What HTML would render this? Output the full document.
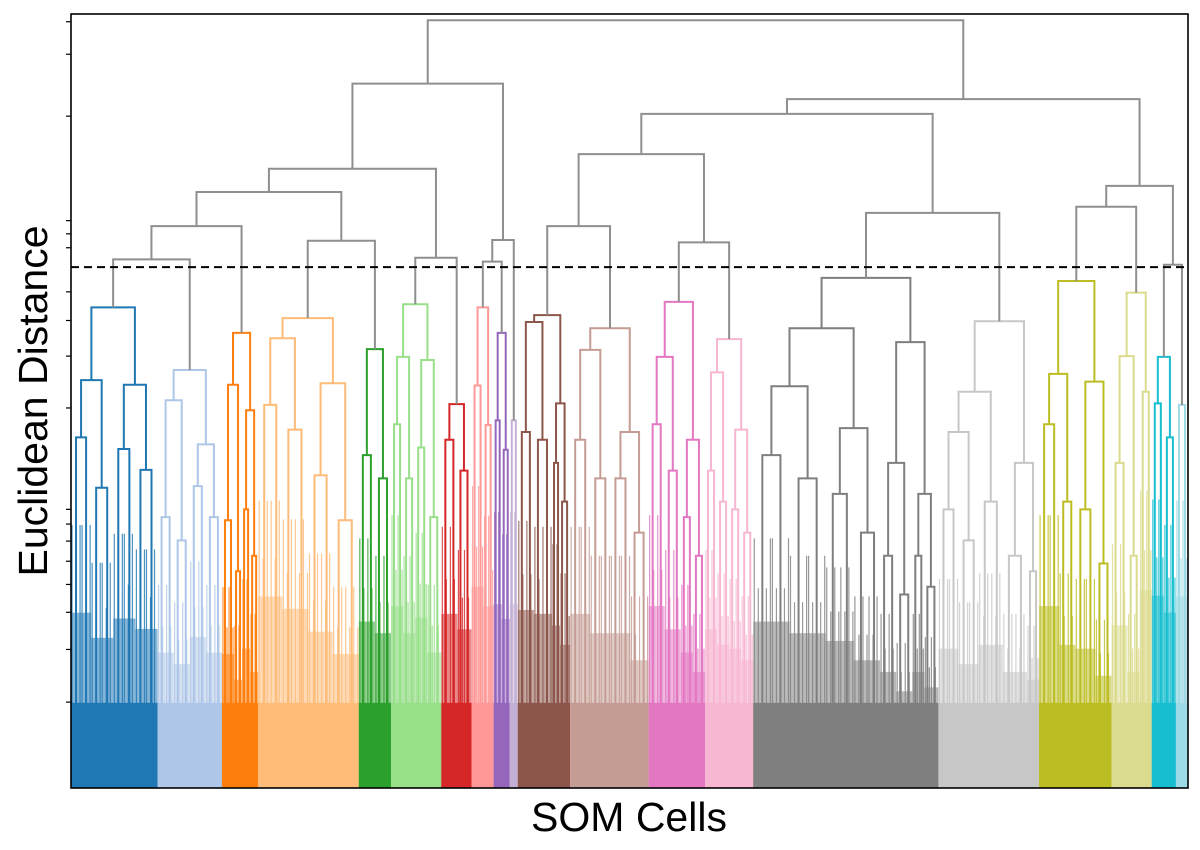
<!DOCTYPE html>
<html><head><meta charset="utf-8"><style>
body{margin:0;background:#fff;}
svg{display:block;font-family:"Liberation Sans",sans-serif;}
</style></head><body>
<svg id="chart" width="1200" height="850" viewBox="0 0 1200 850">
<g id="marks"></g>
<line id="thr" stroke="#000" stroke-width="2" stroke-dasharray="8,5"/>
<rect x="71" y="14" width="1117" height="774" fill="none" stroke="#000" stroke-width="1.6"/>
<g id="ticks"></g>
<text x="47" y="401" font-size="41" text-anchor="middle" transform="rotate(-90 47 401)">Euclidean Distance</text>
<text x="629" y="831" font-size="41" text-anchor="middle">SOM Cells</text>
</svg>
<script>
const clusterColors=["#1f77b4","#aec7e8","#ff7f0e","#ffbb78","#2ca02c","#98df8a","#d62728","#ff9896","#9467bd","#c5b0d5","#8c564b","#c49c94","#e377c2","#f7b6d2","#7f7f7f","#c7c7c7","#bcbd22","#dbdb8d","#17becf","#9edae5"];
const clusterNames=["blue","light-blue","orange","light-orange","green","light-green","red","light-red","purple","light-purple","brown","light-brown","pink","light-pink","gray","light-gray","olive","light-olive","cyan","light-cyan"];
const clusterTrees=[
 [62.1,[52.7,[45.3,5,5],[38.8,5,6]],[52.1,[43.8,5,6],[41.1,5,6]]],
 [54.0,[50.1,[35,4,4],[32,4,4]],[44.4,[39,4,4],[35,4,4]]],
 [58.8,[52.1,[34.6,3,3],[28,2,2]],[48.8,[36,2,2],[30,2,2]]],
 [60.7,[58.1,[49.5,6,6],[46.3,6,7]],[52.3,[40.4,6,6],[34.6,6,7]]],
 [56.7,[43,4,4],[40,4,4]],
 [62.5,[55.7,[47,3,3],[40,3,3]],[55.3,[44,3,3],[35,3,4]]],
 [49.6,[45,4,4],[41,3,4]],
 [62.1,[52,3,3],[46.9,2,3]],
 [58.8,[47.5,2,2],[43.7,2,2]],
 [47.5,2,2],
 [61.1,[60.2,[46,4,4],[45,4,5]],[49.7,[42,2,2],[37,2,3]]],
 [59.4,[56.6,[45,5,5],[40,5,5]],[46,[40,5,5],[33,4,5]]],
 [62.8,[55.7,[47,4,4],[41,4,4]],[45,[35,3,3],[30,3,3]]],
 [58.0,[53.7,[41,3,3],[37,3,3]],[46.3,[36,3,3],[33,3,3]]],
 [65.9,[59.4,[51.9,[43,9,9],[40,9,9]],[46.5,[38,7,7],[33,7,6]]],[57.6,[42,[30,4,4],[25,4,4]],[38,[30,3,3],[26,3,4]]]],
 [60.3,[51.2,[46,[36,5,5],[32,5,5]],[37,6,6]],[42,[30,6,6],[28,3,3]]],
 [65.5,[53.5,[47,5,5],[37,4,4]],[52.5,[36,5,5],[29,4,4]]],
 [64.0,[55.8,[42,4,4],[30,3,3]],[51.2,3,3]],
 [55.7,[49.7,3,3],[45.3,3,3]],
 [49.5,3,3]
];
const topTree=[99.2,
 [91.0,
  [80.0,[77.0,[72.6,[68.3,{k:0},{k:1}],{k:2}],[70.7,{k:3},{k:4}]],[68.5,{k:5},{k:6}]],
  [70.8,[68.0,{k:7},{k:8}],{k:9}]],
 [89.0,
  [87.1,[81.9,[72.6,{k:10},{k:11}],[70.5,{k:12},{k:13}]],[74.3,{k:14},{k:15}]],
  [77.8,[75.1,{k:16},{k:17}],[67.6,{k:18},{k:19}]]]];
const threshold=67.3;
const tickValues=[99,94.8,86.8,73.3,71.6,69.8,64.1,60.4,55.8,49.1,36.0,34.1,31.9,29.3,26.3,22.7,17.9,11.1];
const fillHeight=11;

const NS="http://www.w3.org/2000/svg";
const X0=71,X1=1188,Y0=788,Y1=14;
function countLeaves(n){if(typeof n==="number")return n;if(n.k!==undefined)return countLeaves(clusterTrees[n.k]);return countLeaves(n[1])+countLeaves(n[2]);}
const total=countLeaves(topTree);
const xs=u=>X0+u*(X1-X0)/total;
const ys=d=>Y0-d*(Y0-Y1)/100;
const g=document.getElementById("marks");
let cursor=0;
function mk(tag,attrs){const e=document.createElementNS(NS,tag);for(const k in attrs)e.setAttribute(k,attrs[k]);g.appendChild(e);return e;}
function layout(node,color,cname){
 if(typeof node==="number"){const x0=cursor;cursor+=node;return {x:x0+node/2,h:0,group:true,x0:x0,n:node};}
 if(node.k!==undefined){
  const c=clusterColors[node.k];const start=cursor;
  const r=layout(clusterTrees[node.k],c,clusterNames[node.k]);
  const blk=mk("rect",{x:xs(start),y:ys(fillHeight),width:xs(cursor)-xs(start),height:ys(0)-ys(fillHeight),fill:c});
  
  
  return r;
 }
 const h=node[0];
 const l=layout(node[1],color,cname),r=layout(node[2],color,cname);
 [l,r].forEach(ch=>{if(ch.group){const th=Math.min(h*0.5,28);
  const rr=mk("rect",{x:xs(ch.x0),y:ys(th),width:xs(ch.x0+ch.n)-xs(ch.x0),height:ys(0)-ys(th),fill:color,opacity:0.55});
  
  
  const th2=Math.min(h*0.75,40);
  for(let i=0;i<ch.n;i+=2){const ln=mk("line",{x1:xs(ch.x0+i+0.5),x2:xs(ch.x0+i+0.5),y1:ys(0),y2:ys(th2*(i%4===0?1:0.8)),stroke:color,"stroke-width":1.2,opacity:0.8});
   
   }
 }});
 const p=mk("path",{d:`M${xs(l.x)},${ys(l.h)}V${ys(h)}H${xs(r.x)}V${ys(r.h)}`,fill:"none",stroke:color,"stroke-width":2});
 
 
 return {x:(l.x+r.x)/2,h:h};
}
layout(topTree,"#8f8f8f",null);
const t=document.getElementById("thr");
t.setAttribute("x1",X0);t.setAttribute("x2",X1);t.setAttribute("y1",ys(threshold));t.setAttribute("y2",ys(threshold));
const tg=document.getElementById("ticks");
tickValues.forEach(v=>{const e=document.createElementNS(NS,"line");
 e.setAttribute("x1",X0-5);e.setAttribute("x2",X0);e.setAttribute("y1",ys(v));e.setAttribute("y2",ys(v));e.setAttribute("stroke","#000");e.setAttribute("stroke-width",1.2);
 
 
 tg.appendChild(e);});
</script>
</body></html>
